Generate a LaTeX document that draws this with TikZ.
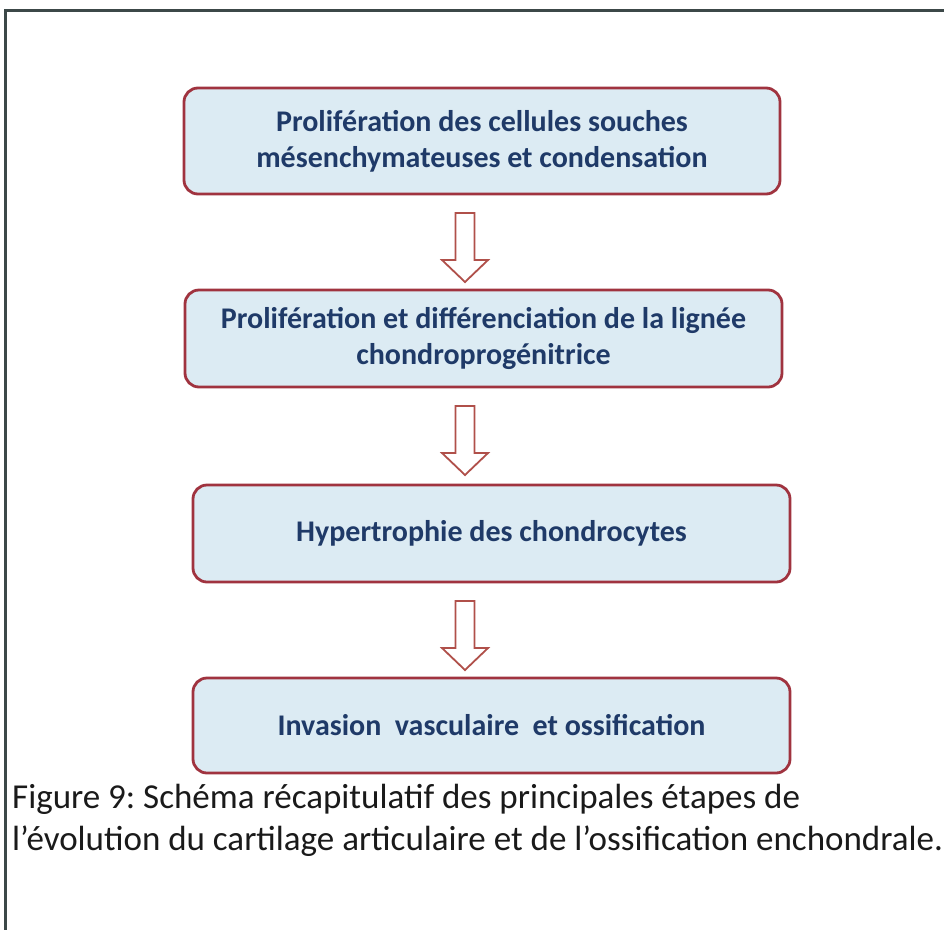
\documentclass[tikz,border=0pt]{standalone}
\usepackage{fontspec}
\setmainfont{Carlito}
\frenchspacing
\definecolor{boxfill}{HTML}{DCEBF3}
\definecolor{boxline}{HTML}{A0333F}
\definecolor{txtblue}{HTML}{1F3A68}
\definecolor{arrowline}{HTML}{B0504A}
\definecolor{framecol}{HTML}{3C4848}
\definecolor{captxt}{HTML}{1A1A1A}
\begin{document}
\begin{tikzpicture}[x=1pt,y=-1pt,
  stepbox/.style={draw=boxline, line width=2.8pt, fill=boxfill, rounded corners=14pt,
    text=txtblue, font=\fontsize{30}{36}\selectfont\bfseries, align=center, inner sep=0pt},
  blockarrow/.style={draw=arrowline, line width=1.8pt, fill=white, line join=miter}]
\useasboundingbox (0,0) rectangle (944,929);
\fill[white] (0,0) rectangle (944,929);
\draw[framecol, line width=3pt] (5.5,960) -- (5.5,10.5) -- (960,10.5);

\node[stepbox, minimum width=596pt, minimum height=106pt] (b1) at (482,141)
  {Prolifération des cellules souches\\mésenchymateuses et condensation};
\node[stepbox, minimum width=597pt, minimum height=97pt] (b2) at (483.5,338.5)
  {Prolifération et différenciation de la lignée\\chondroprogénitrice};
\node[stepbox, minimum width=597pt, minimum height=97pt] (b3) at (491.5,533.5)
  {Hypertrophie des chondrocytes};
\node[stepbox, minimum width=597pt, minimum height=95pt] (b4) at (491.5,725.5)
  {Invasion\ \ vasculaire\ \ et ossification};

\coordinate (a1) at (465,213);
\coordinate (a2) at (465,406);
\coordinate (a3) at (465,601);
\foreach \a in {a1,a2,a3}
  \draw[blockarrow] (\a) ++(-9.5,0) -- ++(19,0) -- ++(0,47) -- ++(13.5,0)
     -- ++(-23,22) -- ++(-23,-22) -- ++(13.5,0) -- cycle;

\node[anchor=north west, align=left, inner sep=0pt, text=captxt,
  font=\fontsize{35}{42}\selectfont] (cap) at (12,784)
  {Figure 9: Schéma récapitulatif des principales étapes de\\l’évolution du cartilage articulaire et de l’ossification enchondrale.};
\end{tikzpicture}
\end{document}
